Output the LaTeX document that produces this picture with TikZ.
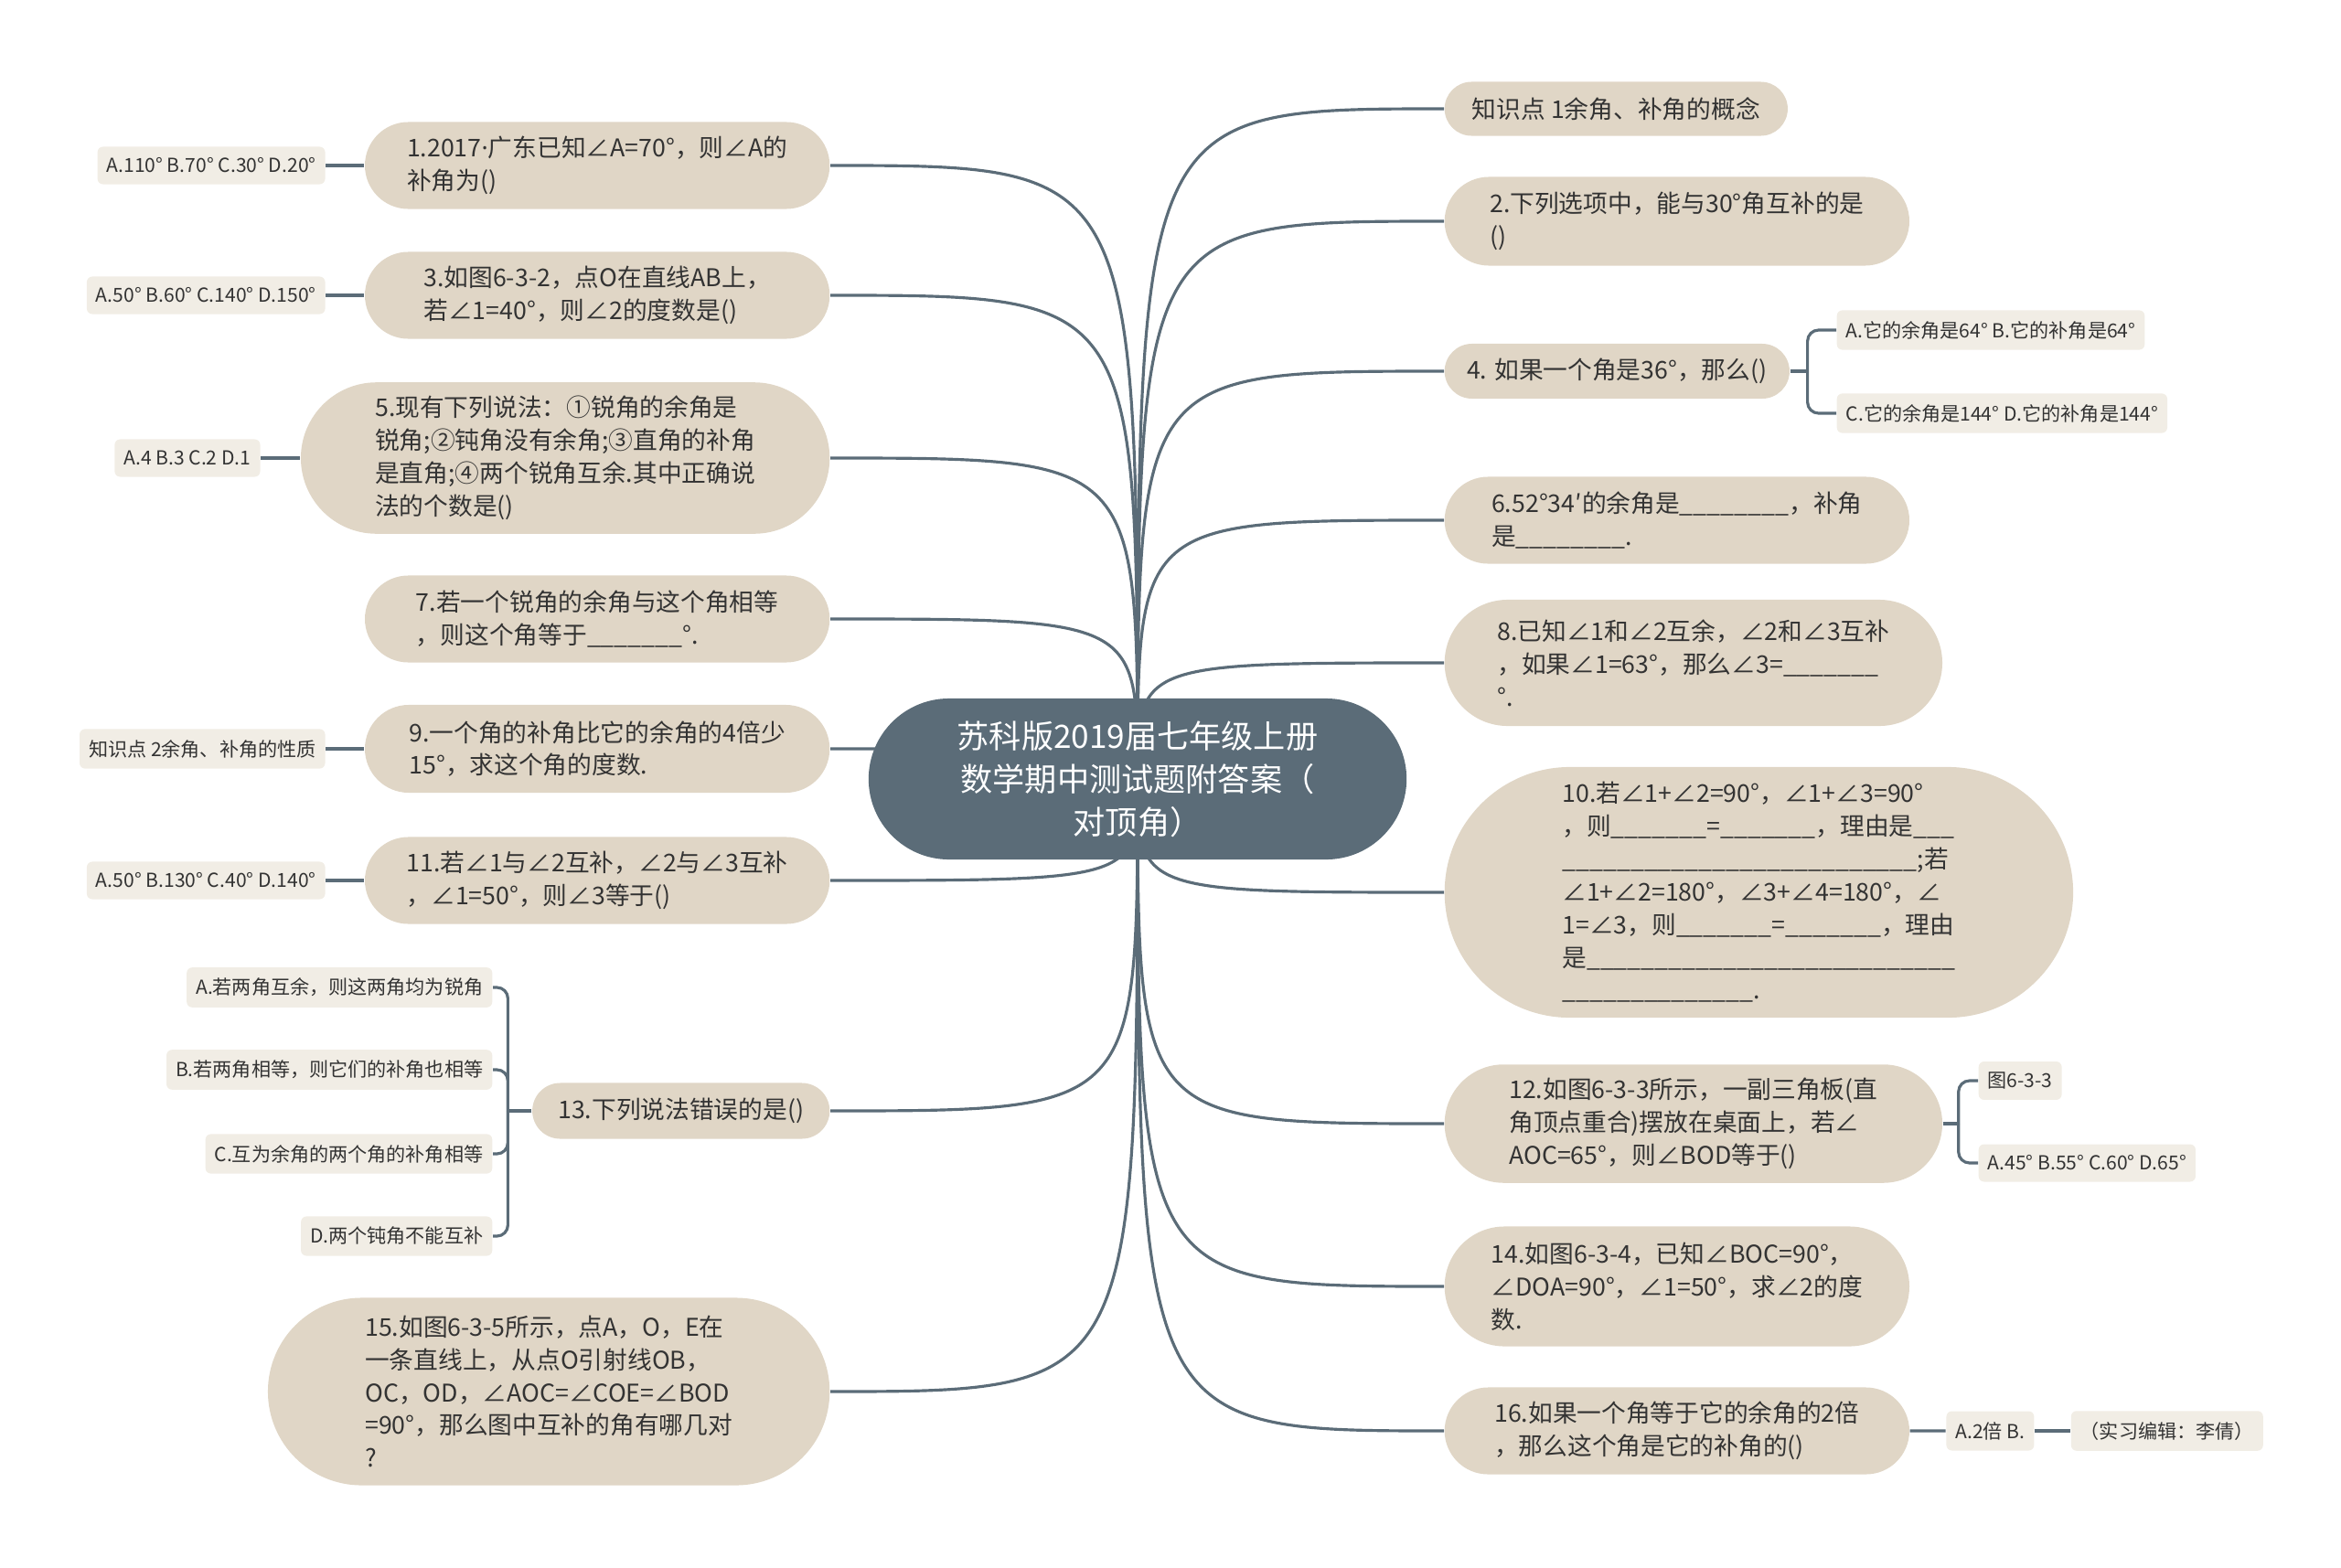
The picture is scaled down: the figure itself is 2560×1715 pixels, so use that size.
\documentclass[tikz,border=0pt]{standalone}
\usepackage{fontspec}
\setmainfont{Noto Sans CJK SC}
\newfontfamily\latinfont{Noto Sans}
\usetikzlibrary{positioning,shapes.misc,backgrounds}
\definecolor{rootslate}{RGB}{91,108,120}
\definecolor{topicbeige}{RGB}{224,214,198}
\definecolor{leafcream}{RGB}{241,237,229}
\definecolor{inkgray}{RGB}{51,51,51}

\begin{document}
\begin{tikzpicture}[
    x=0.01cm, y=-0.01cm,
    root/.style={
        rounded rectangle,
        fill=rootslate,
        text=white,
        align=center,
        font=\fontsize{10}{13.4}\selectfont,
        inner xsep=0pt,
        minimum width=5.88cm,
        minimum height=1.76cm
    },
    topic/.style={
        rounded rectangle,
        fill=topicbeige,
        text=inkgray,
        align=left,
        font=\fontsize{7.6}{10.2}\selectfont,
        inner xsep=0pt,
        inner ysep=0.15cm
    },
    leaf/.style={
        fill=leafcream,
        rounded corners=0.06cm,
        text=inkgray,
        font=\fontsize{6}{7}\selectfont,
        inner xsep=0.1cm,
        minimum height=0.41cm
    },
    link/.style={
        draw=rootslate,
        line width=0.9pt
    },
    fork/.style={
        link,
        rounded corners=0.12cm
    }
]
\useasboundingbox (0,0) rectangle (2560,1715);

\node[root] (root) at (1244,852) {苏科版2019届七年级上册\\数学期中测试题附答案（\\对顶角）};

% left branch
\node[topic, anchor=east, minimum width=5.08cm, minimum height=0.95cm] (q1) at (908,181) {1.2017{\latinfont ·}广东已知∠A=70°，则∠A的\\补角为()};
\node[topic, anchor=east, minimum width=5.08cm, minimum height=0.95cm] (q3) at (908,323) {3.如图6-3-2，点O在直线AB上，\\若∠1=40°，则∠2的度数是()};
\node[topic, anchor=east, minimum width=5.78cm, minimum height=1.63cm] (q5) at (908,501) {5.现有下列说法：①锐角的余角是\\锐角;②钝角没有余角;③直角的补角\\是直角;④两个锐角互余.其中正确说\\法的个数是()};
\node[topic, anchor=east, minimum width=5.08cm, minimum height=0.95cm] (q7) at (908,677) {7.若一个锐角的余角与这个角相等\\，则这个角等于\_\_\_\_\_\_\_°.};
\node[topic, anchor=east, minimum width=5.08cm, minimum height=0.96cm] (q9) at (908,819) {9.一个角的补角比它的余角的4倍少\\15°，求这个角的度数.};
\node[topic, anchor=east, minimum width=5.08cm, minimum height=0.95cm] (q11) at (908,963) {11.若∠1与∠2互补，∠2与∠3互补\\，∠1=50°，则∠3等于()};
\node[topic, anchor=east, minimum width=3.25cm, minimum height=0.61cm] (q13) at (908,1215) {13.下列说法错误的是()};
\node[topic, anchor=east, minimum width=6.14cm, minimum height=2.05cm] (q15) at (908,1522) {15.如图6-3-5所示，点A，O，E在\\一条直线上，从点O引射线OB，\\OC，OD，∠AOC=∠COE=∠BOD\\=90°，那么图中互补的角有哪几对\\?};

% right branch
\node[topic, anchor=west, minimum width=3.75cm, minimum height=0.59cm] (know1) at (1579,119) {知识点 1余角、补角的概念};
\node[topic, anchor=west, minimum width=5.08cm, minimum height=0.97cm] (q2) at (1579,242) {2.下列选项中，能与30°角互补的是\\()};
\node[topic, anchor=west, minimum width=3.77cm, minimum height=0.60cm] (q4) at (1579,406) {4. 如果一个角是36°，那么()};
\node[topic, anchor=west, minimum width=5.08cm, minimum height=0.95cm] (q6) at (1579,569) {6.52°34′的余角是\_\_\_\_\_\_\_\_，补角\\是\_\_\_\_\_\_\_\_.};
\node[topic, anchor=west, minimum width=5.44cm, minimum height=1.38cm] (q8) at (1579,725) {8.已知∠1和∠2互余，∠2和∠3互补\\，如果∠1=63°，那么∠3=\_\_\_\_\_\_\_\\°.};
\node[topic, anchor=west, minimum width=6.87cm, minimum height=2.74cm] (q10) at (1579,976) {10.若∠1+∠2=90°，∠1+∠3=90°\\，则\_\_\_\_\_\_\_=\_\_\_\_\_\_\_，理由是\_\_\_\\\_\_\_\_\_\_\_\_\_\_\_\_\_\_\_\_\_\_\_\_\_\_\_\_\_\_;若\\∠1+∠2=180°，∠3+∠4=180°，∠\\1=∠3，则\_\_\_\_\_\_\_=\_\_\_\_\_\_\_，理由\\是\_\_\_\_\_\_\_\_\_\_\_\_\_\_\_\_\_\_\_\_\_\_\_\_\_\_\_\\\_\_\_\_\_\_\_\_\_\_\_\_\_\_.};
\node[topic, anchor=west, minimum width=5.44cm, minimum height=1.27cm] (q12) at (1579,1229) {12.如图6-3-3所示，一副三角板(直\\角顶点重合)摆放在桌面上，若∠\\AOC=65°，则∠BOD等于()};
\node[topic, anchor=west, minimum width=5.08cm, minimum height=1.31cm] (q14) at (1579,1407) {14.如图6-3-4，已知∠BOC=90°，\\∠DOA=90°，∠1=50°，求∠2的度\\数.};
\node[topic, anchor=west, minimum width=5.08cm, minimum height=0.95cm] (q16) at (1579,1565) {16.如果一个角等于它的余角的2倍\\，那么这个角是它的补角的()};

% leaves
\node[leaf, left=0.42cm of q1] (q1opt) {A.110° B.70° C.30° D.20°};
\node[leaf, left=0.42cm of q3] (q3opt) {A.50° B.60° C.140° D.150°};
\node[leaf, left=0.43cm of q5] (q5opt) {A.4 B.3 C.2 D.1};
\node[leaf, left=0.42cm of q9] (know2) {知识点 2余角、补角的性质};
\node[leaf, left=0.42cm of q11] (q11opt) {A.50° B.130° C.40° D.140°};

\coordinate[left=0.26cm of q13] (q13fork);
\node[leaf, anchor=east] (q13a) at (539,1080) {A.若两角互余，则这两角均为锐角};
\node[leaf, anchor=east] (q13b) at (539,1170) {B.若两角相等，则它们的补角也相等};
\node[leaf, anchor=east] (q13c) at (539,1262) {C.互为余角的两个角的补角相等};
\node[leaf, anchor=east] (q13d) at (539,1352) {D.两个钝角不能互补};

\coordinate[right=0.19cm of q4] (q4fork);
\node[leaf, anchor=west] (q4a) at (2008,361) {A.它的余角是64° B.它的补角是64°};
\node[leaf, anchor=west] (q4c) at (2008,452) {C.它的余角是144° D.它的补角是144°};

\coordinate[right=0.17cm of q12] (q12fork);
\node[leaf, anchor=west] (q12fig) at (2163,1182) {图6-3-3};
\node[leaf, anchor=west] (q12opt) at (2163,1272) {A.45° B.55° C.60° D.65°};

\node[leaf, right=0.39cm of q16] (q16opt) {A.2倍 B.};
\node[leaf, right=0.39cm of q16opt] (editor) {（实习编辑：李倩）};

% connectors
\begin{scope}[on background layer]
\draw[link] (root.center) .. controls (root.center |- q1.east) .. (q1.east);
\draw[link] (root.center) .. controls (root.center |- q3.east) .. (q3.east);
\draw[link] (root.center) .. controls (root.center |- q5.east) .. (q5.east);
\draw[link] (root.center) .. controls (root.center |- q7.east) .. (q7.east);
\draw[link] (root.center) .. controls (root.center |- q9.east) .. (q9.east);
\draw[link] (root.center) .. controls (root.center |- q11.east) .. (q11.east);
\draw[link] (root.center) .. controls (root.center |- q13.east) .. (q13.east);
\draw[link] (root.center) .. controls (root.center |- q15.east) .. (q15.east);
\draw[link] (root.center) .. controls (root.center |- know1.west) .. (know1.west);
\draw[link] (root.center) .. controls (root.center |- q2.west) .. (q2.west);
\draw[link] (root.center) .. controls (root.center |- q4.west) .. (q4.west);
\draw[link] (root.center) .. controls (root.center |- q6.west) .. (q6.west);
\draw[link] (root.center) .. controls (root.center |- q8.west) .. (q8.west);
\draw[link] (root.center) .. controls (root.center |- q10.west) .. (q10.west);
\draw[link] (root.center) .. controls (root.center |- q12.west) .. (q12.west);
\draw[link] (root.center) .. controls (root.center |- q14.west) .. (q14.west);
\draw[link] (root.center) .. controls (root.center |- q16.west) .. (q16.west);
\end{scope}

\draw[link] (q1opt) -- (q1);
\draw[link] (q3opt) -- (q3);
\draw[link] (q5opt) -- (q5);
\draw[link] (know2) -- (q9);
\draw[link] (q11opt) -- (q11);

\draw[link] (q13.west) -- (q13fork);
\draw[fork] (q13fork) |- (q13a.east);
\draw[fork] (q13fork) |- (q13b.east);
\draw[fork] (q13fork) |- (q13c.east);
\draw[fork] (q13fork) |- (q13d.east);

\draw[link] (q4.east) -- (q4fork);
\draw[fork] (q4fork) |- (q4a.west);
\draw[fork] (q4fork) |- (q4c.west);

\draw[link] (q12.east) -- (q12fork);
\draw[fork] (q12fork) |- (q12fig.west);
\draw[fork] (q12fork) |- (q12opt.west);

\draw[link] (q16) -- (q16opt);
\draw[link] (q16opt) -- (editor);

\end{tikzpicture}
\end{document}
